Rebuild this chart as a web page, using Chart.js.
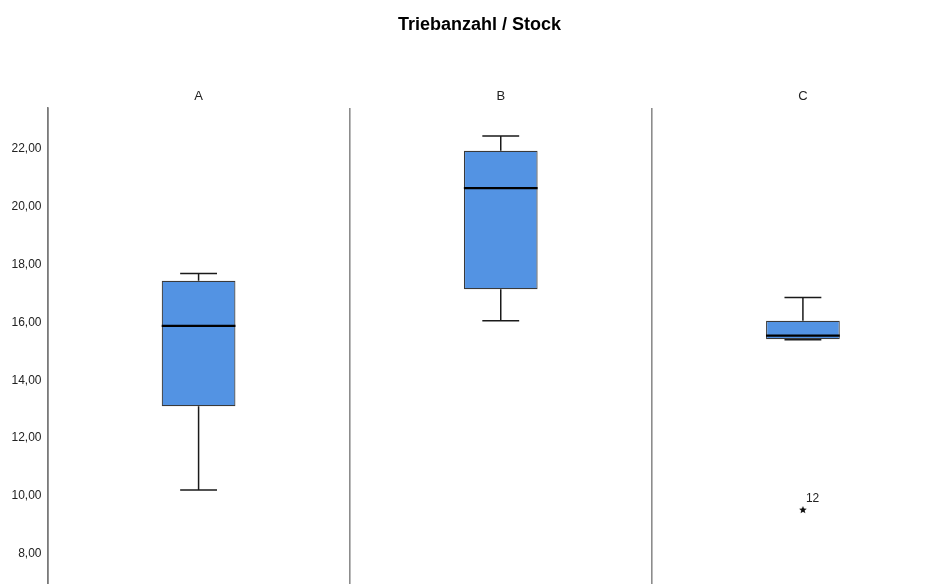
<!DOCTYPE html>
<html>
<head>
<meta charset="utf-8">
<title>Triebanzahl / Stock</title>
<script src="https://cdn.jsdelivr.net/npm/chart.js@4.4.1/dist/chart.umd.min.js"></script>
<style>
  html, body { margin: 0; padding: 0; background: #ffffff; overflow: hidden; }
  #wrap { width: 959px; height: 598px; }
</style>
</head>
<body>
<div id="wrap"><canvas id="chart" width="959" height="598"></canvas></div>
<script>
// Groups and five-number summaries (Triebanzahl je Stock)
const groups = ['A', 'B', 'C'];
const whiskerLow  = [10.20, 16.06, 15.40];
const quartile1   = [13.10, 17.15, 15.42];
const medians     = [15.88, 20.65, 15.54];
const quartile3   = [17.44, 21.94, 16.06];
const whiskerHigh = [17.69, 22.45, 16.86];

// Extreme values (group, value, case number)
const outlierGroups = ['C'];
const outlierValues = [9.51];
const outlierCases  = ['12'];

// Value axis
const yTicks = [8, 10, 12, 14, 16, 18, 20, 22];
const yMin = 6.92;
const yMax = 23.42;

const fmt = v => v.toFixed(2).replace('.', ',');

// Small filled star used for extreme values
function makeStar(r) {
  const c = document.createElement('canvas');
  const s = Math.ceil(r * 2 + 2);
  c.width = s; c.height = s;
  const g = c.getContext('2d');
  g.fillStyle = '#111';
  g.beginPath();
  for (let i = 0; i < 10; i++) {
    const rad = i % 2 === 0 ? r : r * 0.45;
    const a = -Math.PI / 2 + i * Math.PI / 5;
    const px = s / 2 + rad * Math.cos(a);
    const py = s / 2 + rad * Math.sin(a);
    if (i === 0) g.moveTo(px, py); else g.lineTo(px, py);
  }
  g.closePath();
  g.fill();
  return c;
}
const starImg = makeStar(4);

// Whiskers, caps and median lines drawn from each box element
const boxDecor = {
  id: 'boxDecor',
  afterDatasetsDraw(chart) {
    const ctx = chart.ctx;
    const y = chart.scales.y;
    const meta = chart.getDatasetMeta(0);
    ctx.save();
    meta.data.forEach((bar, i) => {
      const cx = bar.x;
      const half = bar.width / 2;
      const capHalf = half / 2;
      const yQ1 = y.getPixelForValue(quartile1[i]);
      const yQ3 = y.getPixelForValue(quartile3[i]);
      const yLo = y.getPixelForValue(whiskerLow[i]);
      const yHi = y.getPixelForValue(whiskerHigh[i]);
      const yMed = y.getPixelForValue(medians[i]);
      ctx.strokeStyle = '#1a1a1a';
      ctx.lineWidth = 1.5;
      ctx.beginPath();
      ctx.moveTo(cx, yQ3); ctx.lineTo(cx, yHi);
      ctx.moveTo(cx, yQ1); ctx.lineTo(cx, yLo);
      ctx.moveTo(cx - capHalf, yHi); ctx.lineTo(cx + capHalf, yHi);
      ctx.moveTo(cx - capHalf, yLo); ctx.lineTo(cx + capHalf, yLo);
      ctx.stroke();
      ctx.strokeStyle = '#000000';
      ctx.lineWidth = 2.2;
      ctx.beginPath();
      ctx.moveTo(cx - half, yMed); ctx.lineTo(cx + half, yMed);
      ctx.stroke();
    });
    // case numbers next to extreme values
    const pm = chart.getDatasetMeta(1);
    ctx.fillStyle = '#222';
    ctx.font = '12px "Liberation Sans", Arial, sans-serif';
    ctx.textAlign = 'left';
    ctx.textBaseline = 'middle';
    pm.data.forEach((pt, i) => {
      ctx.fillText(outlierCases[i], pt.x + 3, pt.y - 11);
    });
    ctx.restore();
  }
};

new Chart(document.getElementById('chart'), {
  type: 'bar',
  data: {
    labels: groups,
    datasets: [
      {
        label: 'Box',
        data: groups.map((g, i) => [quartile1[i], quartile3[i]]),
        backgroundColor: '#5393e3',
        borderColor: '#3a3a3a',
        borderWidth: 1.2,
        borderSkipped: false,
        barPercentage: 0.244,
        categoryPercentage: 1.0
      },
      {
        type: 'scatter',
        label: 'Extremwerte',
        data: outlierGroups.map((g, i) => ({ x: g, y: outlierValues[i] })),
        pointStyle: starImg,
        pointRadius: 4,
        pointHoverRadius: 4
      }
    ]
  },
  options: {
    responsive: false,
    animation: false,
    events: [],
    layout: { padding: 0 },
    plugins: {
      legend: { display: false },
      tooltip: { enabled: false },
      title: {
        display: true,
        text: 'Triebanzahl / Stock',
        color: '#000000',
        font: { family: '"Liberation Sans", Arial, sans-serif', size: 18, weight: 'bold' },
        padding: { top: 14, bottom: 22 }
      }
    },
    scales: {
      x: {
        type: 'category',
        position: 'top',
        offset: true,
        grid: {
          offset: true,
          drawTicks: false,
          color: '#8c8c8c',
          lineWidth: 1.6
        },
        border: { display: false },
        ticks: {
          color: '#222',
          padding: 4,
          font: { family: '"Liberation Sans", Arial, sans-serif', size: 13 }
        },
        afterFit(scale) { scale.height = 108 - 57.6; }
      },
      y: {
        min: yMin,
        max: yMax,
        grid: { display: false, drawTicks: false },
        border: { display: true, color: '#7a7a7a', width: 1.6 },
        afterBuildTicks(scale) { scale.ticks = yTicks.map(v => ({ value: v })); },
        ticks: {
          color: '#222',
          padding: 6,
          font: { family: '"Liberation Sans", Arial, sans-serif', size: 12 },
          callback: v => fmt(v)
        },
        afterFit(scale) { scale.width = 47.5; }
      }
    }
  },
  plugins: [boxDecor]
});
</script>
</body>
</html>
